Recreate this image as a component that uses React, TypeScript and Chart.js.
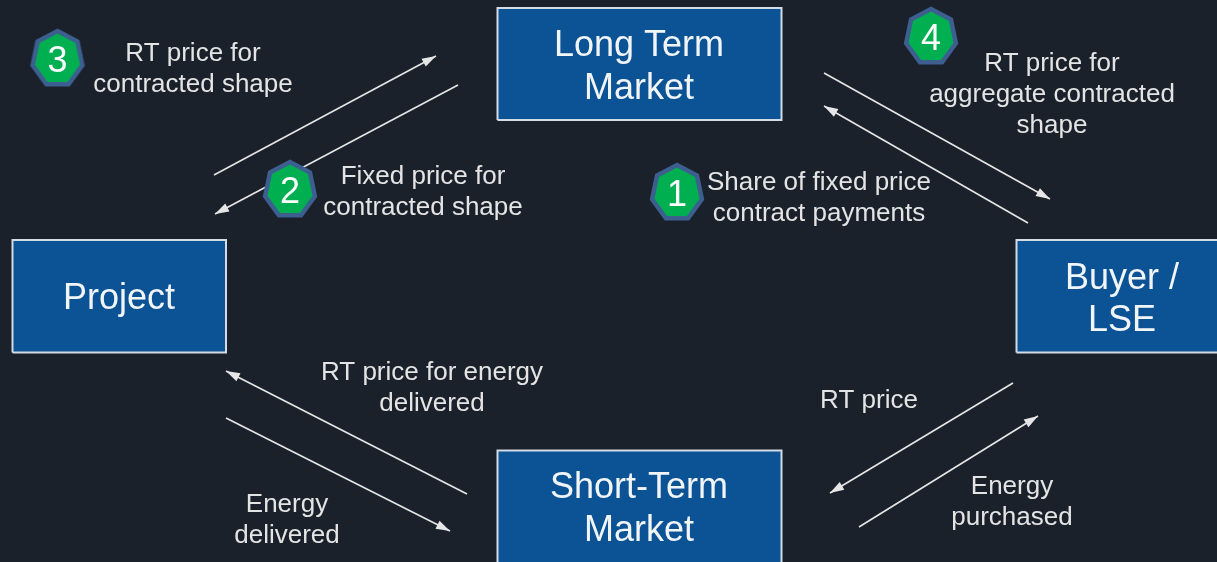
import React, { useEffect, useRef } from "react";
import { Chart, registerables } from "chart.js";

Chart.register(...registerables);

const WIDTH = 1217;
const HEIGHT = 562;

// Boxes: [left, top, right, bottom] in diagram units
const boxNames = ["Long Term Market", "Project", "Buyer / LSE", "Short-Term Market"];
const boxEdges = [
  [497.5, 8, 781.5, 120],
  [12.5, 240, 226, 352.5],
  [1016.5, 240, 1240, 352.5],
  [497.5, 450.5, 781.5, 600],
];

// Arrows: [fromX, fromY, tipX, tipY]
const arrowNames = ["rtContracted", "fixedContracted", "rtAggregate", "shareFixed", "rtDelivered", "energyDelivered", "rtPrice", "energyPurchased"];
const arrowEnds = [
  [214, 175, 436, 56],
  [458, 85, 215, 214],
  [824, 73, 1050, 199],
  [1028, 223, 824, 106],
  [467, 494, 226, 371],
  [226, 418, 450, 531],
  [1013, 383, 830, 493],
  [859, 527, 1038, 416],
];

// Numbered badges
const badgeLabels = ["1", "2", "3", "4"];
const badgeX = [677, 290, 57.5, 931];
const badgeY = [193, 190, 59, 37];

// Text in boxes
const boxTextLabels = ["Long Term", "Market", "Project", "Buyer /", "LSE", "Short-Term", "Market"];
const boxTextX = [639, 639, 119, 1122, 1122, 639, 639];
const boxTextY = [46, 89, 299.5, 279, 321, 488, 531];

// Annotation text
const noteLabels = [
  "RT price for", "contracted shape",
  "Fixed price for", "contracted shape",
  "Share of fixed price", "contract payments",
  "RT price for", "aggregate contracted", "shape",
  "RT price for energy", "delivered",
  "Energy", "delivered",
  "RT price",
  "Energy", "purchased",
];
const noteX = [193, 193, 423, 423, 819, 819, 1052, 1052, 1052, 432, 432, 287, 287, 869, 1012, 1012];
const noteY = [53.5, 84.5, 176.5, 207.5, 182.5, 213.5, 63.5, 94.5, 125.5, 372.5, 403.5, 504.5, 535.5, 400.5, 486.5, 517.5];

const BG = "#1b212b";
const BOX_FILL = "#0b5394";
const BOX_EDGE = "#d4dbe4";
const LINE = "#e6e6e6";
const FONT = '"Liberation Sans", Arial, sans-serif';

function makeBadge(): HTMLCanvasElement {
  const c = document.createElement("canvas");
  c.width = 60;
  c.height = 64;
  const g = c.getContext("2d")!;
  const rx = 25.5;
  const ry = 28;
  g.beginPath();
  for (let i = 0; i < 7; i++) {
    const a = -Math.PI / 2 + (i * 2 * Math.PI) / 7;
    const px = 30 + rx * Math.cos(a);
    const py = 32 + ry * Math.sin(a);
    if (i === 0) g.moveTo(px, py);
    else g.lineTo(px, py);
  }
  g.closePath();
  g.fillStyle = "#00b050";
  g.fill();
  g.lineWidth = 4.5;
  g.lineJoin = "miter";
  g.strokeStyle = "#3c5f8f";
  g.stroke();
  return c;
}

const diagramPlugin = {
  id: "diagramText",
  beforeDraw(chart: any) {
    const { ctx, width, height } = chart;
    ctx.save();
    ctx.fillStyle = BG;
    ctx.fillRect(0, 0, width, height);
    ctx.restore();
  },
  afterDatasetsDraw(chart: any) {
    const { ctx, scales } = chart;
    const px = (v: number) => scales.x.getPixelForValue(v);
    const py = (v: number) => scales.y.getPixelForValue(v);
    ctx.save();
    // text
    ctx.filter = "blur(0.4px)";
    ctx.textAlign = "center";
    ctx.textBaseline = "middle";
    ctx.fillStyle = "#e4e4e4";
    ctx.font = `26px ${FONT}`;
    noteLabels.forEach((t, i) => ctx.fillText(t, px(noteX[i]), py(noteY[i])));
    ctx.fillStyle = "#f2f5f8";
    ctx.font = `36px ${FONT}`;
    boxTextLabels.forEach((t, i) => ctx.fillText(t, px(boxTextX[i]), py(boxTextY[i])));
    ctx.fillStyle = "#ffffff";
    ctx.font = `36px ${FONT}`;
    badgeLabels.forEach((t, i) => ctx.fillText(t, px(badgeX[i]), py(badgeY[i]) + 3));
    ctx.restore();
  },
};

const arrowHeadPlugin = {
  id: "arrowHeads",
  afterDatasetDraw(chart: any, args: any) {
    const i = arrowNames.indexOf(args.meta.label);
    if (i < 0) return;
    const { ctx, scales } = chart;
    const [x0, y0, x1, y1] = arrowEnds[i];
    const tx = scales.x.getPixelForValue(x1);
    const ty = scales.y.getPixelForValue(y1);
    const a = Math.atan2(ty - scales.y.getPixelForValue(y0), tx - scales.x.getPixelForValue(x0));
    const len = 14;
    const hw = 4.5;
    const bx = tx - len * Math.cos(a);
    const by = ty - len * Math.sin(a);
    ctx.save();
    ctx.fillStyle = LINE;
    ctx.beginPath();
    ctx.moveTo(tx, ty);
    ctx.lineTo(bx - hw * Math.sin(a), by + hw * Math.cos(a));
    ctx.lineTo(bx + hw * Math.sin(a), by - hw * Math.cos(a));
    ctx.closePath();
    ctx.fill();
    ctx.restore();
  },
};

export default function App() {
  const ref = useRef<HTMLCanvasElement | null>(null);
  useEffect(() => {
    if (!ref.current) return;
    const arrowSets = arrowEnds.map(([x0, y0, x1, y1], i) => ({
      label: arrowNames[i],
      type: "scatter" as const,
      showLine: true,
      data: [{ x: x0, y: y0 }, { x: x1, y: y1 }],
      borderColor: LINE,
      borderWidth: 1.6,
      pointRadius: 0,
      fill: false,
      order: 1,
    }));
    const boxFillSets = boxEdges.map(([l, t, r, b], i) => ({
      label: boxNames[i] + " fill",
      type: "scatter" as const,
      showLine: true,
      data: [{ x: l, y: t }, { x: r, y: t }],
      borderWidth: 0,
      borderColor: BOX_FILL,
      backgroundColor: BOX_FILL,
      fill: { target: { value: b } },
      pointRadius: 0,
      order: 3,
    }));
    const boxEdgeSets = boxEdges.map(([l, t, r, b], i) => ({
      label: boxNames[i],
      type: "scatter" as const,
      showLine: true,
      data: [
        { x: l, y: b },
        { x: l, y: t },
        { x: r, y: t },
        { x: r, y: b },
        { x: l, y: b },
      ],
      borderColor: BOX_EDGE,
      borderWidth: 2,
      fill: false,
      pointRadius: 0,
      order: 2,
    }));
    const badge = makeBadge();
    const badgeSet = {
      label: "badges",
      type: "scatter" as const,
      data: badgeX.map((x, i) => ({ x, y: badgeY[i] })),
      pointStyle: badge as any,
      pointRadius: 30,
      showLine: false,
      order: 0,
    };
    const chart = new Chart(ref.current, {
      type: "scatter",
      data: { datasets: [...boxFillSets, ...boxEdgeSets, ...arrowSets, badgeSet] as any },
      options: {
        animation: false,
        responsive: false,
        events: [],
        layout: { padding: 0, autoPadding: false },
        plugins: { legend: { display: false }, tooltip: { enabled: false } },
        scales: {
          x: { type: "linear", min: 0, max: WIDTH, display: false },
          y: { type: "linear", min: 0, max: HEIGHT, reverse: true, display: false },
        },
      },
      plugins: [arrowHeadPlugin, diagramPlugin],
    });
    return () => chart.destroy();
  }, []);
  return (
    <div style={{ position: "fixed", left: 0, top: 0, width: WIDTH, height: HEIGHT, overflow: "hidden", background: BG }}>
      <canvas ref={ref} width={WIDTH} height={HEIGHT} style={{ display: "block" }} />
    </div>
  );
}
